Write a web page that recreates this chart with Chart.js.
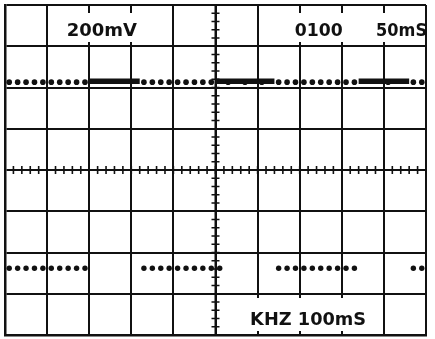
<!DOCTYPE html>
<html>
<head>
<meta charset="utf-8">
<script src="https://cdn.jsdelivr.net/npm/chart.js@4/dist/chart.umd.min.js"></script>
<style>
  html, body { margin: 0; padding: 0; background: #fff; }
  canvas { display: block; }
</style>
</head>
<body>
<canvas id="scope" width="435" height="339"></canvas>
<script>
// Screen: 10 x 8 divisions, centre at (5, 0)
const xDivs = [0, 1, 2, 3, 4, 5, 6, 7, 8, 9, 10];
const yDivs = [-4, -3, -2, -1, 0, 1, 2, 3, 4];

// Upper trace (channel 1): separate dots + dense (solid) runs
const topLevel = 2.13;
const topDotsX = [0.1, 0.3, 0.5, 0.7, 0.9, 1.1, 1.3, 1.5, 1.7, 1.9,
                  3.3, 3.5, 3.7, 3.9, 4.1, 4.3, 4.5, 4.7, 4.9,
                  5.3, 5.7, 6.1,
                  6.5, 6.7, 6.9, 7.1, 7.3, 7.5, 7.7, 7.9, 8.1, 8.3,
                  9.1, 9.7, 9.9];
const topSolidRuns = [[2.0, 3.2], [5.0, 6.4], [8.4, 9.6]];

// Lower trace (channel 2): bursts of dots
const bottomLevel = -2.38;
const bottomDotsX = [0.1, 0.3, 0.5, 0.7, 0.9, 1.1, 1.3, 1.5, 1.7, 1.9,
                     3.3, 3.5, 3.7, 3.9, 4.1, 4.3, 4.5, 4.7, 4.9, 5.1,
                     6.5, 6.7, 6.9, 7.1, 7.3, 7.5, 7.7, 7.9, 8.1, 8.3,
                     9.7, 9.9];

// Readout texts (w = max width in px, the scope font is narrow)
const readouts = [
  { text: '200mV',     x: 2.3,  y: 3.25,  w: 71 },
  { text: '0100',      x: 7.45, y: 3.25,  w: 48 },
  { text: '50mS',      x: 9.42, y: 3.25,  w: 51 },
  { text: 'KHZ 100mS', x: 7.2,  y: -3.76, w: 116 }
];

const INK = '#111';

const toPoints = (xs, y) => xs.map(x => ({ x: x, y: y }));

const datasets = [];
datasets.push({
  data: toPoints(topDotsX, topLevel),
  showLine: false, pointRadius: 2.8, pointBackgroundColor: INK, pointBorderWidth: 0
});
topSolidRuns.forEach(run => {
  datasets.push({
    data: toPoints(run, topLevel + 0.02),
    showLine: true, borderColor: INK, borderWidth: 5.5, pointRadius: 0
  });
});
datasets.push({
  data: toPoints(bottomDotsX, bottomLevel),
  showLine: false, pointRadius: 2.7, pointBackgroundColor: INK, pointBorderWidth: 0
});

// Graticule extras: minor ticks on centre lines, readout boxes and text
const scopePlugin = {
  id: 'scope',
  beforeDatasetsDraw(chart) {
    const ctx = chart.ctx;
    const xs = chart.scales.x, ys = chart.scales.y;
    const cx = xs.getPixelForValue(5), cy = ys.getPixelForValue(0);
    ctx.save();

    // white boxes behind readouts (graticule is masked there)
    ctx.fillStyle = '#fff';
    const top = ys.getPixelForValue(4), bot = ys.getPixelForValue(-4);
    const box = (a, b, y, h) => ctx.fillRect(xs.getPixelForValue(a), y, xs.getPixelForValue(b) - xs.getPixelForValue(a), h);
    box(1.07, 3.93, top + 8, 29);
    box(6.12, 9.95, top + 8, 29);
    box(5.12, 8.93, bot - 37, 33);

    ctx.strokeStyle = INK;
    ctx.lineWidth = 1.6;
    ctx.beginPath();
    for (let i = 0; i <= 50; i++) {
      const px = xs.getPixelForValue(i * 0.2);
      ctx.moveTo(px, cy - 4); ctx.lineTo(px, cy + 4);
    }
    for (let i = 0; i <= 40; i++) {
      const py = ys.getPixelForValue(-4 + i * 0.2);
      ctx.moveTo(cx - 4, py); ctx.lineTo(cx + 4, py);
    }
    ctx.stroke();
    ctx.lineWidth = 2;
    ctx.beginPath();
    ctx.moveTo(cx, top); ctx.lineTo(cx, bot);
    ctx.stroke();
    ctx.restore();
  },
  afterDatasetsDraw(chart) {
    const ctx = chart.ctx;
    const xs = chart.scales.x, ys = chart.scales.y;
    ctx.save();
    ctx.fillStyle = INK;
    ctx.font = 'bold 18px "DejaVu Sans"';
    ctx.textAlign = 'center';
    ctx.textBaseline = 'alphabetic';
    readouts.forEach(r => {
      ctx.fillText(r.text, xs.getPixelForValue(r.x), ys.getPixelForValue(r.y), r.w);
    });
    ctx.restore();
  }
};

const axisStyle = (min, max) => ({
  type: 'linear', min: min, max: max,
  ticks: { display: false, stepSize: 1 },
  grid: { color: INK, lineWidth: 2, drawTicks: false },
  border: { display: true, color: INK, width: 2.5 }
});

new Chart(document.getElementById('scope'), {
  type: 'scatter',
  data: { datasets: datasets },
  options: {
    responsive: false,
    animation: false,
    layout: { padding: { left: 5, right: 9, top: 5, bottom: 2 } },
    plugins: { legend: { display: false }, tooltip: { enabled: false } },
    scales: {
      x: axisStyle(xDivs[0], xDivs[xDivs.length - 1]),
      y: axisStyle(yDivs[0], yDivs[yDivs.length - 1])
    }
  },
  plugins: [scopePlugin]
});
</script>
</body>
</html>
